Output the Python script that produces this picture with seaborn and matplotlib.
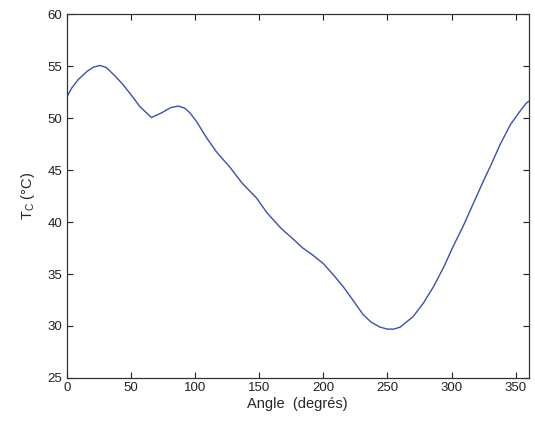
import matplotlib
matplotlib.use('Agg')
import matplotlib.pyplot as plt
import seaborn as sns
import pandas as pd

# Values
angle = [0, 4, 9, 16, 21, 26, 31, 38, 44, 51, 57, 66, 74, 81, 87, 92, 96, 101,
         109, 117, 127, 137, 148, 156, 167, 177, 184, 192, 200, 208, 216, 223,
         231, 237, 244, 250, 255, 260, 265, 270, 278, 286, 294, 301, 309, 317,
         325, 330, 338, 346, 353, 358, 360]
temp = [52.0, 52.9, 53.7, 54.5, 54.9, 55.05, 54.85, 54.0, 53.2, 52.1, 51.1,
        50.05, 50.5, 51.0, 51.15, 50.95, 50.5, 49.7, 48.1, 46.7, 45.3, 43.7,
        42.3, 40.9, 39.4, 38.3, 37.5, 36.8, 36.0, 34.9, 33.7, 32.5, 31.1,
        30.4, 29.9, 29.7, 29.7, 29.9, 30.4, 30.9, 32.2, 33.8, 35.7, 37.6, 39.6,
        41.8, 44.0, 45.3, 47.5, 49.4, 50.6, 51.4, 51.6]
xticks = [0, 50, 100, 150, 200, 250, 300, 350]
yticks = [25, 30, 35, 40, 45, 50, 55, 60]

df = pd.DataFrame({'angle': angle, 'Tc': temp})

sns.set_style('white')
plt.rcParams['font.family'] = ['Liberation Sans', 'DejaVu Sans']

fig = plt.figure(figsize=(5.35, 4.25), dpi=100)
ax = fig.add_axes([0.1247, 0.1106, 0.8633, 0.8564])

sns.lineplot(data=df, x='angle', y='Tc', color='#3a4fb5', linewidth=1.0, ax=ax)

ax.set_xlim(0, 360)
ax.set_ylim(25, 60)
ax.set_xticks(xticks)
ax.set_yticks(yticks)
ax.tick_params(direction='in', length=4, width=0.8, labelsize=9.5, colors='#222222',
               top=True, right=True, bottom=True, left=True, pad=3)
for s in ax.spines.values():
    s.set_visible(True)
    s.set_color('#333333')
    s.set_linewidth(0.9)

ax.set_xlabel('Angle  (degrés)', fontsize=10.5, labelpad=2)
ax.set_ylabel('T$_\\mathregular{C}$ (°C)', fontsize=10.5, labelpad=8)

fig.savefig('out.png', dpi=100)
